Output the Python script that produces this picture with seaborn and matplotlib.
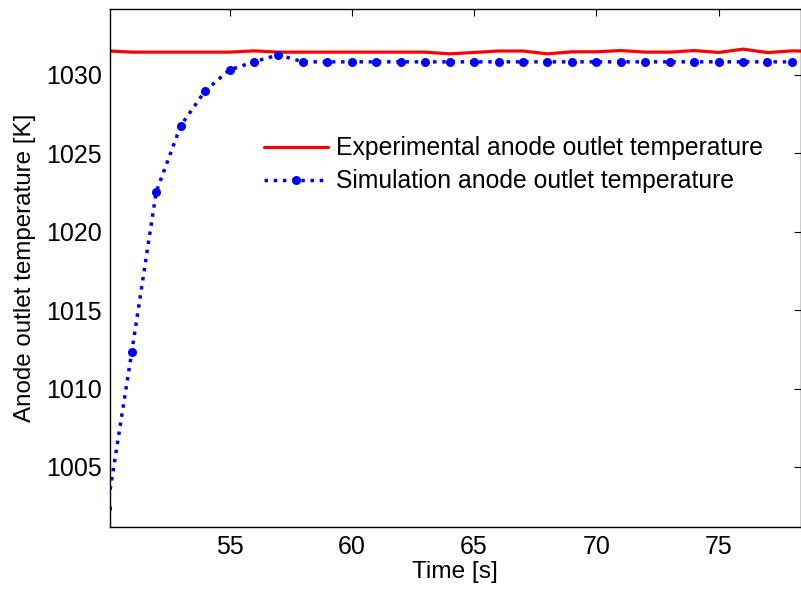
import numpy as np
import pandas as pd
import matplotlib
matplotlib.use("Agg")
import matplotlib.pyplot as plt
import seaborn as sns

# ── data ─────────────────────────────────────────────────────────────────
time_s = list(range(50, 80))
exp_temp = [1031.53, 1031.45, 1031.45, 1031.45, 1031.45, 1031.45, 1031.53, 1031.45,
            1031.45, 1031.45, 1031.45, 1031.45, 1031.45, 1031.45, 1031.34, 1031.43,
            1031.52, 1031.52, 1031.34, 1031.47, 1031.47, 1031.55, 1031.45, 1031.45,
            1031.55, 1031.43, 1031.64, 1031.42, 1031.53, 1031.50]
sim_temp = [1002.4, 1012.33, 1022.54, 1026.75, 1028.98, 1030.32, 1030.83, 1031.28,
            1030.83, 1030.83, 1030.83, 1030.83, 1030.83, 1030.83, 1030.83, 1030.83,
            1030.83, 1030.83, 1030.83, 1030.83, 1030.83, 1030.83, 1030.83, 1030.83,
            1030.83, 1030.83, 1030.83, 1030.83, 1030.83, 1030.83]
x_ticks = [55, 60, 65, 70, 75]
y_ticks = [1005, 1010, 1015, 1020, 1025, 1030]

df = pd.DataFrame({"t": time_s, "exp": exp_temp, "sim": sim_temp})

# ── plot ─────────────────────────────────────────────────────────────────
sns.set_style("white")
plt.rcParams['font.family'] = ['Liberation Sans', 'DejaVu Sans']
plt.rcParams['text.color'] = 'black'
plt.rcParams['axes.labelcolor'] = 'black'

fig = plt.figure(figsize=(8.01, 5.91), dpi=100)
ax = fig.add_axes([110 / 801, 1 - 527 / 591, 690.5 / 801, 518 / 591])

sns.lineplot(data=df, x="t", y="exp", ax=ax, color="#ff0000", linewidth=2.3,
             label="Experimental anode outlet temperature")
sns.lineplot(data=df, x="t", y="sim", ax=ax, color="#0000ff", linewidth=2.5,
             linestyle=":", marker="o", markersize=6.5, markeredgewidth=0,
             label="Simulation anode outlet temperature")

ax.set_xlim(50.11, 78.35)
ax.set_ylim(1001.17, 1034.2)
ax.set_xticks(x_ticks)
ax.set_yticks(y_ticks)
ax.tick_params(direction="in", top=True, right=True, length=5, width=0.8,
               labelsize=18, colors="black", pad=6)
for s in ax.spines.values():
    s.set_linewidth(1.0)
    s.set_color("black")

ax.set_xlabel("Time [s]", fontsize=17.6, labelpad=1, color="black")
ax.set_ylabel("Anode outlet temperature [K]", fontsize=17.4, labelpad=7, color="black")

leg = ax.legend(loc="upper left", bbox_to_anchor=(0.208, 0.773), frameon=False,
                fontsize=17.8, handlelength=2.6, handletextpad=0.33, labelspacing=0.36,
                borderaxespad=0)
for txt in leg.get_texts():
    txt.set_color("black")

fig.savefig("out.png", dpi=100)
